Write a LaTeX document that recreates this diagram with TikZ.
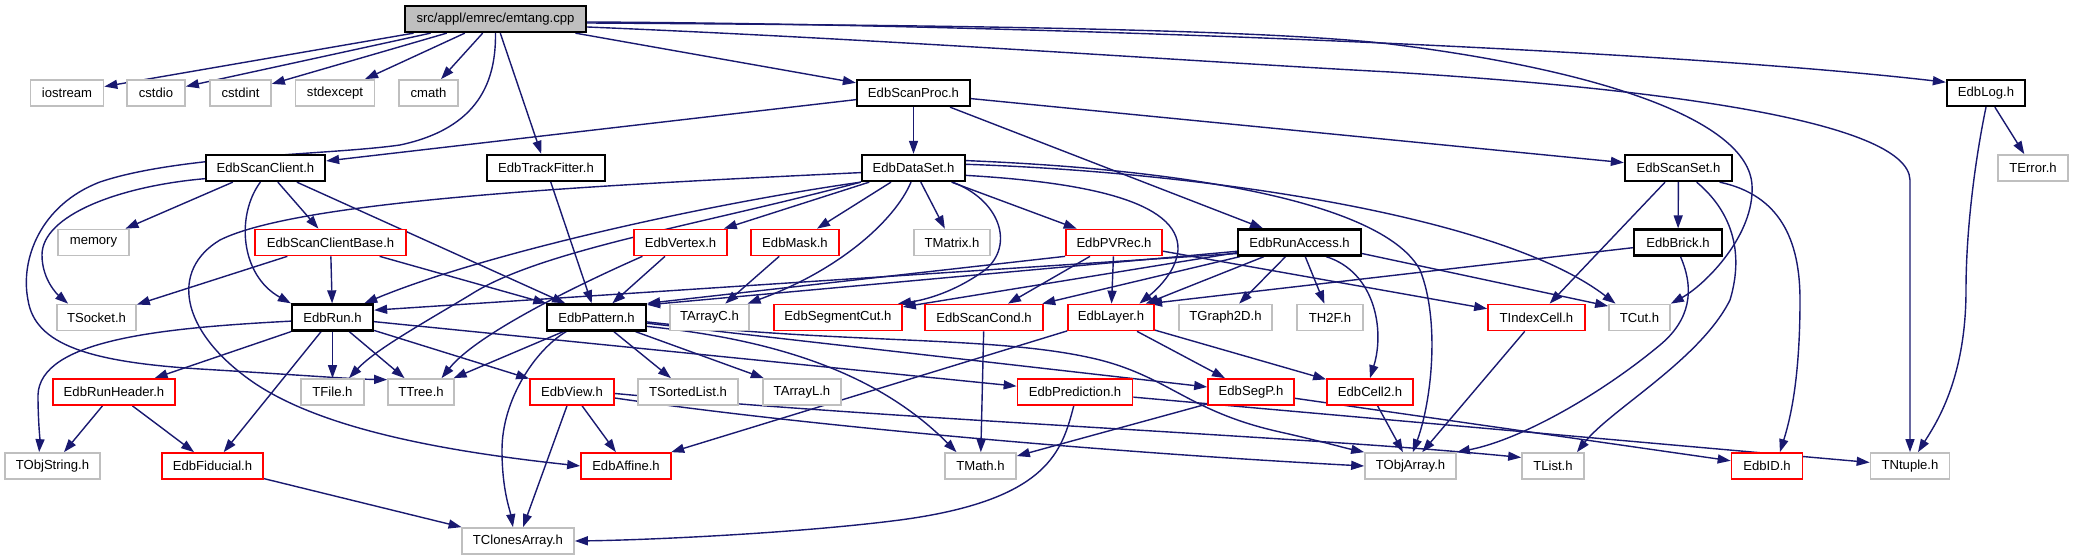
\documentclass[tikz,border=0pt]{standalone}
\usepackage{fontspec}
\setmainfont{Liberation Sans}
\usetikzlibrary{arrows.meta,backgrounds}
\definecolor{edgecol}{HTML}{191970}
\definecolor{graybox}{HTML}{BFBFBF}
\definecolor{redbox}{HTML}{FF0000}
\begin{document}
\begin{tikzpicture}[x=0.5pt,y=-0.5pt,
  nd/.style={rectangle, minimum height=13pt, inner xsep=0pt, inner ysep=0pt, fill=white, text=black, font=\fontsize{6.55pt}{7.5pt}\selectfont},
  gb/.style={nd, draw=graybox, line width=0.85pt},
  rb/.style={nd, draw=redbox, line width=0.85pt},
  bb/.style={nd, draw=black, line width=1.15pt},
  wd/.style={minimum width={#1*0.5pt}},
  ed/.style={draw=edgecol, line width=0.7pt, -{Triangle[length=6.5pt,width=4.5pt]}}
]
\useasboundingbox (0,0) rectangle (2073,560);
% nodes
\node[bb, wd=181, fill=graybox] (root) at (495.5,19) {src/appl/emrec/emtang.cpp};
\node[gb, wd=73] (iostream) at (67,93) {iostream};
\node[gb, wd=58] (cstdio) at (156,93) {cstdio};
\node[gb, wd=61] (cstdint) at (240.5,93) {cstdint};
\node[gb, wd=79] (stdexcept) at (335,93) {stdexcept};
\node[gb, wd=59] (cmath) at (428.5,93) {cmath};
\node[bb, wd=113] (scanproc) at (913.5,93) {EdbScanProc.h};
\node[bb, wd=78] (log) at (1986,93) {EdbLog.h};
\node[bb, wd=119] (scanclient) at (265.5,168) {EdbScanClient.h};
\node[bb, wd=118] (trackfitter) at (546,168) {EdbTrackFitter.h};
\node[bb, wd=103] (dataset) at (913.5,168) {EdbDataSet.h};
\node[bb, wd=107] (scanset) at (1678.5,168) {EdbScanSet.h};
\node[gb, wd=70] (terror) at (2033,168) {TError.h};
\node[gb, wd=71] (memory) at (93.5,242.5) {memory};
\node[rb, wd=151] (scbase) at (330.5,242.5) {EdbScanClientBase.h};
\node[rb, wd=93] (vertex) at (680.5,242.5) {EdbVertex.h};
\node[rb, wd=88] (mask) at (795,242.5) {EdbMask.h};
\node[gb, wd=76] (tmatrix) at (952,242.5) {TMatrix.h};
\node[rb, wd=96] (pvrec) at (1114,242.5) {EdbPVRec.h};
\node[bb, wd=123] (runaccess) at (1299.5,242.5) {EdbRunAccess.h};
\node[bb, wd=88] (brick) at (1678,242.5) {EdbBrick.h};
\node[gb, wd=79] (tsocket) at (96.5,317.5) {TSocket.h};
\node[bb, wd=81] (run) at (332.5,317.5) {EdbRun.h};
\node[bb, wd=99] (pattern) at (596.5,317.5) {EdbPattern.h};
\node[gb, wd=79] (tarrayc) at (709.5,317.5) {TArrayC.h};
\node[rb, wd=128] (segcut) at (838,317.5) {EdbSegmentCut.h};
\node[rb, wd=118] (scancond) at (984,317.5) {EdbScanCond.h};
\node[rb, wd=86] (layer) at (1111,317.5) {EdbLayer.h};
\node[gb, wd=93] (tgraph) at (1225.5,317.5) {TGraph2D.h};
\node[gb, wd=66] (th2f) at (1330,317.5) {TH2F.h};
\node[rb, wd=97] (tindex) at (1536.5,317.5) {TIndexCell.h};
\node[gb, wd=61] (tcut) at (1639.5,317.5) {TCut.h};
\node[rb, wd=122] (runheader) at (114,392) {EdbRunHeader.h};
\node[gb, wd=63] (tfile) at (332.5,392) {TFile.h};
\node[gb, wd=66] (ttree) at (421,392) {TTree.h};
\node[rb, wd=84] (view) at (572,392) {EdbView.h};
\node[gb, wd=100] (tsorted) at (688,392) {TSortedList.h};
\node[gb, wd=78] (tarrayl) at (802,392) {TArrayL.h};
\node[rb, wd=115] (prediction) at (1075,392) {EdbPrediction.h};
\node[rb, wd=86] (segp) at (1251,392) {EdbSegP.h};
\node[rb, wd=86] (cell2) at (1370,392) {EdbCell2.h};
\node[gb, wd=95] (tobjstring) at (52.5,466) {TObjString.h};
\node[rb, wd=101] (fiducial) at (212.5,466) {EdbFiducial.h};
\node[rb, wd=90] (affine) at (626,466) {EdbAffine.h};
\node[gb, wd=71] (tmath) at (980.5,466) {TMath.h};
\node[gb, wd=91] (tobjarray) at (1410.5,466) {TObjArray.h};
\node[gb, wd=62] (tlist) at (1553,466) {TList.h};
\node[rb, wd=71] (edbid) at (1767,466) {EdbID.h};
\node[gb, wd=79] (tntuple) at (1910,466) {TNtuple.h};
\node[gb, wd=112] (tclones) at (518,541) {TClonesArray.h};
% edges
\begin{scope}[on background layer]
\fill[white] (0,0) rectangle (2073,560);
% root
\draw[ed] (root) -- (iostream);
\draw[ed] (root) -- (cstdio);
\draw[ed] (root) -- (cstdint);
\draw[ed] (root) -- (stdexcept);
\draw[ed] (root) -- (cmath);
\draw[ed] (root) -- (trackfitter);
\draw[ed] (root) -- (scanproc);
\draw[ed] (root.south) .. controls (496,80) and (480,128) .. (400,145) .. controls (330,155) and (180,155) .. (100,182) .. controls (40,205) and (20,260) .. (28,300) .. controls (35,345) and (90,362) .. (200,369) .. controls (300,375) and (350,379) .. (ttree.160);
\draw[ed] ([yshift=-1.5pt]root.east) .. controls (1000,24) and (1650,48) .. (log.165);
\draw[ed] ([yshift=-2pt]root.east) .. controls (900,25) and (1250,28) .. (1390,44) .. controls (1600,70) and (1748,120) .. (1752,185) .. controls (1755,235) and (1705,285) .. (tcut.north east);
\draw[ed] ([yshift=-4pt]root.east) .. controls (900,40) and (1200,62) .. (1390,72) .. controls (1650,88) and (1908,120) .. (1910,180) -- (tntuple.north);
% scanproc
\draw[ed] (scanproc) -- (scanclient);
\draw[ed] (scanproc) -- (dataset);
\draw[ed] (scanproc) -- (runaccess);
\draw[ed] (scanproc) -- (scanset);
% log
\draw[ed] (log) -- (terror);
\draw[ed] (log.south) .. controls (1975,160) and (1966,230) .. (1966,290) .. controls (1966,380) and (1935,425) .. (tntuple.60);
% scanclient
\draw[ed] (scanclient.190) .. controls (120,186) and (42,215) .. (42,255) .. controls (42,280) and (58,295) .. (tsocket.154);
\draw[ed] (scanclient) -- (memory);
\draw[ed] (scanclient.-110) .. controls (236,215) and (240,275) .. (run.north west);
\draw[ed] (scanclient) -- (scbase);
\draw[ed] (scanclient) -- (pattern);
% trackfitter
\draw[ed] (trackfitter) -- (pattern);
% dataset
\draw[ed] (dataset.185) .. controls (600,185) and (300,200) .. (220,240) .. controls (170,270) and (180,330) .. (250,380) .. controls (320,430) and (450,452) .. (affine.west);
\draw[ed] (dataset.south west) .. controls (700,205) and (480,255) .. (run.24);
\draw[ed] (dataset.-165) .. controls (700,225) and (540,250) .. (470,295) .. controls (420,325) and (375,350) .. (tfile.40);
\draw[ed] (dataset) -- (vertex);
\draw[ed] (dataset) -- (mask);
\draw[ed] (dataset.-100) .. controls (895,220) and (840,270) .. (tarrayc.20);
\draw[ed] (dataset) -- (tmatrix);
\draw[ed] (dataset.-20) .. controls (1000,200) and (1015,245) .. (985,270) .. controls (955,292) and (925,300) .. (segcut.13);
\draw[ed] (dataset) -- (pvrec);
\draw[ed] (dataset.-8) .. controls (1080,182) and (1180,200) .. (1178,250) .. controls (1176,275) and (1150,295) .. (layer.26);
\draw[ed] (dataset.8) .. controls (1200,170) and (1385,205) .. (1420,270) .. controls (1440,320) and (1432,400) .. (tobjarray.80);
\draw[ed] (dataset.4) .. controls (1200,172) and (1500,215) .. (tcut.150);
% scbase
\draw[ed] (scbase) -- (tsocket);
\draw[ed] (scbase) -- (run);
\draw[ed] (scbase) -- (pattern);
% vertex
\draw[ed] (vertex.-160) .. controls (600,275) and (480,330) .. (ttree.34);
\draw[ed] (vertex) -- (pattern);
% mask
\draw[ed] (mask) -- (tarrayc);
% pvrec
\draw[ed] (pvrec.south west) -- (pattern.north east);
\draw[ed] (pvrec) -- (scancond);
\draw[ed] (pvrec) -- (layer);
\draw[ed] (pvrec) -- (tindex);
% runaccess
\draw[ed] (runaccess.190) -- (run.10);
\draw[ed] (runaccess.188) -- (pattern.14);
\draw[ed] (runaccess) -- (segcut);
\draw[ed] (runaccess) -- (scancond);
\draw[ed] (runaccess) -- (layer);
\draw[ed] (runaccess) -- (tgraph);
\draw[ed] (runaccess) -- (th2f);
\draw[ed] (runaccess.-28) .. controls (1375,272) and (1385,330) .. (cell2.north);
\draw[ed] (runaccess.-10) -- (tcut.160);
% scanset
\draw[ed] (scanset) -- (brick);
\draw[ed] (scanset) -- (tindex);
\draw[ed] (scanset.-38) .. controls (1730,210) and (1745,250) .. (1730,300) .. controls (1700,360) and (1610,410) .. (tlist.30);
\draw[ed] (scanset.-19) .. controls (1780,195) and (1800,240) .. (1800,300) .. controls (1800,380) and (1790,420) .. (edbid.47);
% brick
\draw[ed] (brick) -- (layer.20);
\draw[ed] (brick.-80) .. controls (1695,290) and (1690,320) .. (1660,345) .. controls (1600,395) and (1520,440) .. (tobjarray.north east);
% run
\draw[ed] (run) -- (runheader);
\draw[ed] (run.185) .. controls (160,328) and (40,340) .. (38,395) .. controls (38,420) and (40,440) .. (tobjstring.134);
\draw[ed] (run) -- (fiducial);
\draw[ed] (run) -- (tfile);
\draw[ed] (run) -- (ttree);
\draw[ed] (run) -- (view);
\draw[ed] (run) -- (prediction);
% runheader
\draw[ed] (runheader) -- (tobjstring);
\draw[ed] (runheader) -- (fiducial);
% fiducial
\draw[ed] (fiducial) -- (tclones);
% pattern
\draw[ed] (pattern) -- (ttree);
\draw[ed] (pattern.-155) .. controls (535,350) and (502,400) .. (502,450) .. controls (502,490) and (510,510) .. (tclones.110);
\draw[ed] (pattern) -- (tsorted);
\draw[ed] (pattern) -- (tarrayl);
\draw[ed] (pattern.-10) .. controls (780,340) and (880,375) .. (tmath.150);
\draw[ed] (pattern) -- (segp);
\draw[ed] (pattern.-5) .. controls (850,345) and (1000,335) .. (1100,360) .. controls (1170,378) and (1190,412) .. (1280,432) .. controls (1320,441) and (1345,448) .. (tobjarray.north west);
% view
\draw[ed] (view) -- (tclones);
\draw[ed] (view) -- (affine);
\draw[ed] (view.-8) .. controls (800,425) and (1100,452) .. (tobjarray.west);
\draw[ed] (view.-2) .. controls (900,420) and (1300,436) .. (tlist.165);
% layer
\draw[ed] (layer) -- (affine);
\draw[ed] (layer) -- (segp);
\draw[ed] (layer) -- (cell2);
% others
\draw[ed] (scancond) -- (tmath);
\draw[ed] (segp) -- (tmath);
\draw[ed] (segp) -- (edbid);
\draw[ed] (prediction.-95) .. controls (1062,450) and (1050,500) .. (900,520) .. controls (800,533) and (650,540) .. (tclones.east);
\draw[ed] (prediction) -- (tntuple);
\draw[ed] (cell2) -- (tobjarray);
\draw[ed] (tindex) -- (tobjarray);
\end{scope}
\end{tikzpicture}
\end{document}
